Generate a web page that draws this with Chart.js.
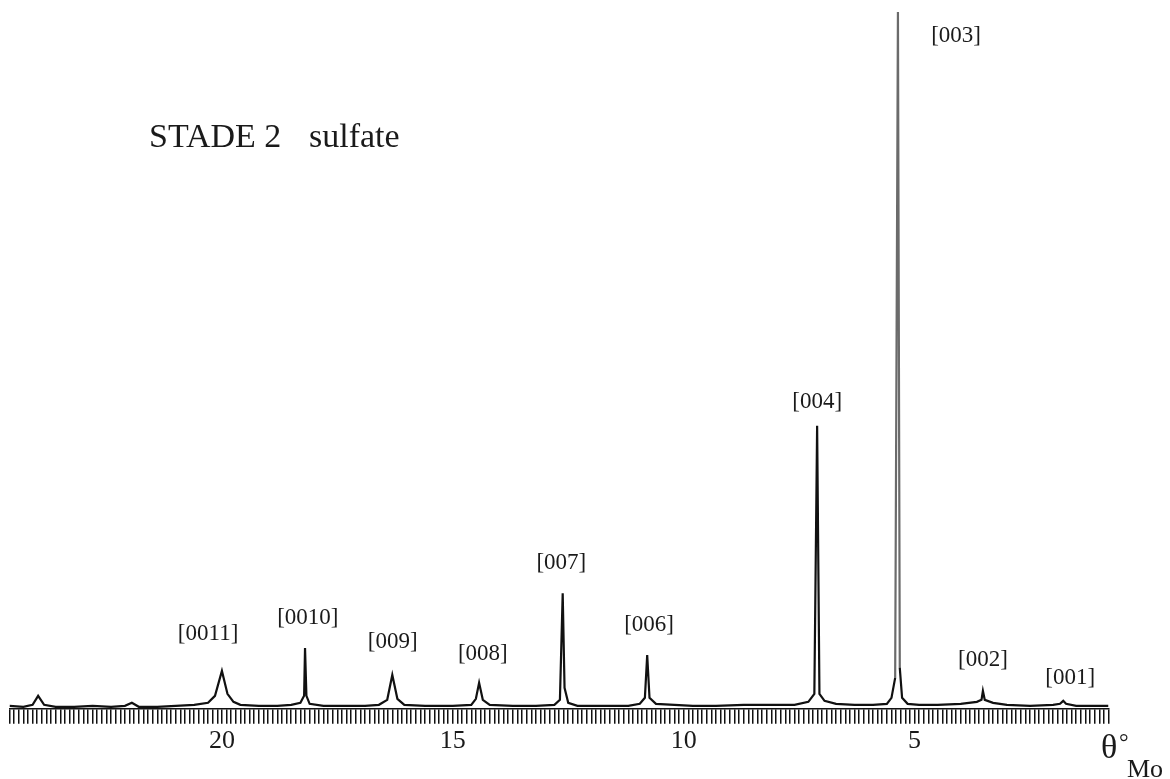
<!DOCTYPE html>
<html>
<head>
<meta charset="utf-8">
<script src="https://cdn.jsdelivr.net/npm/chart.js@4.4.1/dist/chart.umd.min.js"></script>
<style>
  html, body { margin: 0; padding: 0; background: #fff; }
  #wrap { position: relative; width: 1170px; height: 779px; }
</style>
</head>
<body>
<div id="wrap"><canvas id="xrd"></canvas></div>
<script>
// diffractogram: theta (deg, Mo) and intensity (arbitrary units)
var theta = [
  24.6, 24.3, 24.1, 23.98, 23.85, 23.6, 23.2, 22.8, 22.4, 22.1, 21.95, 21.8, 21.4, 21.0,
  20.6, 20.3, 20.15, 20.0, 19.88, 19.75, 19.6, 19.2, 18.8, 18.5, 18.3, 18.22, 18.2, 18.17,
  18.1, 17.8, 17.3, 16.9, 16.6, 16.42, 16.31, 16.2, 16.05, 15.6, 15.0, 14.6, 14.5, 14.43,
  14.35, 14.2, 13.7, 13.2, 12.8, 12.68, 12.62, 12.58, 12.5, 12.3, 11.8, 11.2, 10.95, 10.84,
  10.79, 10.74, 10.6, 10.2, 9.8, 9.3, 8.7, 8.0, 7.6, 7.3, 7.17, 7.11, 7.06, 6.95,
  6.7, 6.3, 5.9, 5.6, 5.5, 5.42, 5.36, 5.32, 5.27, 5.15, 4.9, 4.5, 4.0, 3.65,
  3.55, 3.52, 3.48, 3.3, 3.0, 2.5, 2.0, 1.85, 1.78, 1.72, 1.5, 1.1, 0.8
];
var intensity = [
  2, 1, 3, 12, 3, 1, 1, 2, 1, 2, 5, 1, 1, 2,
  3, 5, 12, 37, 14, 6, 3, 2, 2, 3, 5, 12, 60, 12,
  4, 2, 2, 2, 3, 8, 33, 9, 3, 2, 2, 3, 9, 25,
  8, 3, 2, 2, 3, 8, 115, 20, 5, 2, 2, 2, 4, 10,
  53, 10, 4, 3, 2, 2, 3, 3, 3, 6, 14, 283, 14, 7,
  4, 3, 3, 4, 10, 30, 698, 40, 10, 4, 3, 3, 4, 6,
  8, 17, 8, 5, 3, 2, 3, 4, 7, 4, 2, 2, 2
];

// reflection labels and where they sit (theta, intensity units)
var hklLabels = ['[003]', '[004]', '[007]', '[006]', '[0011]', '[0010]', '[009]', '[008]', '[002]', '[001]'];
var hklTheta  = [4.1, 7.11, 12.65, 10.75, 20.3, 18.14, 16.3, 14.35, 3.52, 1.63];
var hklLevel  = [674, 307, 145, 83, 74, 90, 66, 54, 48, 30];

var points = theta.map(function(t, i) { return { x: t, y: intensity[i] }; });

var textPlugin = {
  id: 'texts',
  afterDraw: function(chart) {
    var ctx = chart.ctx;
    var xs = chart.scales.x, ys = chart.scales.y;
    ctx.save();
    ctx.fillStyle = '#1a1a1a';
    ctx.textAlign = 'center';
    ctx.textBaseline = 'middle';
    ctx.font = '23px "Liberation Serif", serif';
    hklLabels.forEach(function(lab, i) {
      ctx.fillText(lab, xs.getPixelForValue(hklTheta[i]), ys.getPixelForValue(hklLevel[i]));
    });

    ctx.textAlign = 'left';
    ctx.textBaseline = 'alphabetic';
    ctx.font = '34px "Liberation Serif", serif';
    ctx.fillText('STADE 2', 149, 147);
    ctx.fillText('sulfate', 309, 147);

    // axis title
    ctx.font = '34px "Liberation Serif", serif';
    ctx.fillText('\u03B8', 1101, 758);
    ctx.font = '24px "Liberation Serif", serif';
    ctx.fillText('\u00B0', 1119, 750);
    ctx.font = '26px "Liberation Serif", serif';
    ctx.fillText('Mo', 1127, 777);
    ctx.restore();
  }
};

var chart = new Chart(document.getElementById('xrd').getContext('2d'), {
  type: 'line',
  data: {
    datasets: [{
      data: points,
      borderColor: '#111',
      borderWidth: 2.2,
      pointRadius: 0,
      tension: 0,
      fill: false,
      segment: {
        borderColor: function(c) {
          return (c.p0.parsed.y > 600 || c.p1.parsed.y > 600) ? '#6b6b6b' : undefined;
        }
      }
    }]
  },
  options: {
    responsive: true,
    maintainAspectRatio: false,
    animation: false,
    layout: { padding: { left: 9.5, right: 61.5, top: 10, bottom: 20 } },
    plugins: { legend: { display: false }, tooltip: { enabled: false } },
    scales: {
      x: {
        type: 'linear',
        reverse: true,
        min: 0.8,
        max: 24.6,
        border: { display: true, color: '#111', width: 1.5 },
        grid: { drawOnChartArea: false, drawTicks: true, tickLength: 15, color: '#111', lineWidth: 1.5 },
        ticks: {
          stepSize: 0.1,
          maxTicksLimit: 400,
          autoSkip: false,
          maxRotation: 0,
          padding: 2,
          color: '#1a1a1a',
          font: { family: '"Liberation Serif", serif', size: 26 },
          callback: function(v) {
            var k = v / 5;
            if (v > 1 && Math.abs(k - Math.round(k)) < 1e-6) return String(Math.round(v));
            return '';
          }
        }
      },
      y: { display: false, min: -1, max: 700 }
    }
  },
  plugins: [textPlugin]
});
</script>
</body>
</html>
